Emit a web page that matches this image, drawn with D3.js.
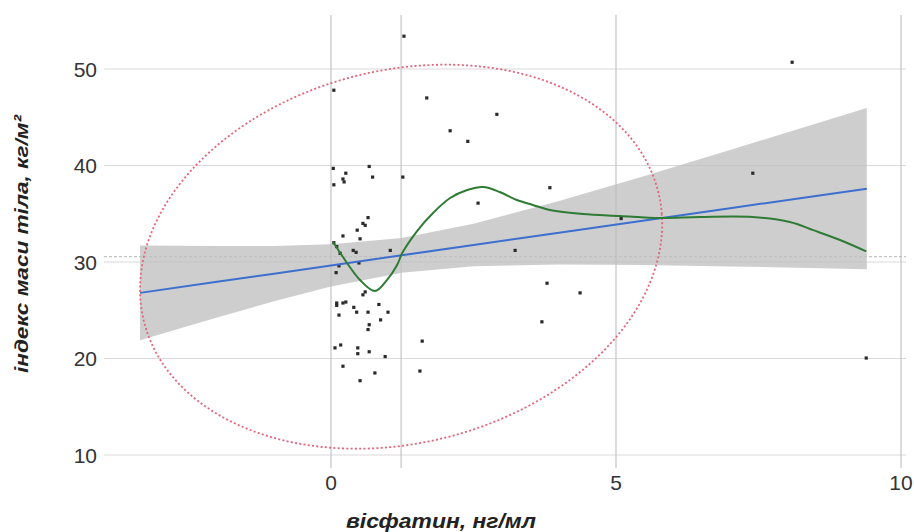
<!DOCTYPE html>
<html>
<head>
<meta charset="utf-8">
<script src="https://cdn.jsdelivr.net/npm/d3@7"></script>
<style>
html,body{margin:0;padding:0;background:#fff;}
svg{display:block;}
text{font-family:"Liberation Sans",Arial,sans-serif;}
</style>
</head>
<body>
<svg id="chart" width="914" height="532"></svg>
<script>
// ---- data ----
const pointsX = [1.28,8.09,0.05,1.68,2.91,2.09,2.40,0.04,0.67,0.26,0.73,0.21,0.23,0.05,1.26,7.40,3.84,2.58,0.65,0.56,0.60,0.46,0.21,0.51,0.05,0.10,0.39,0.44,0.16,1.04,3.23,5.09,0.49,0.14,0.09,3.79,4.37,0.60,0.56,0.10,0.10,0.21,0.26,0.40,0.45,0.65,0.84,1.00,0.14,0.87,0.67,0.65,3.70,1.60,0.17,0.07,0.47,0.47,0.67,0.95,0.21,0.77,0.51,1.56,9.39];
const pointsY = [53.4,50.7,47.8,47.0,45.3,43.6,42.5,39.7,39.9,39.2,38.8,38.6,38.3,38.0,38.8,39.2,37.7,36.1,34.6,34.0,33.8,33.3,32.7,32.4,32.0,31.6,31.2,31.0,30.9,31.2,31.2,34.5,29.9,29.6,28.9,27.8,26.8,26.9,26.6,25.75,25.5,25.75,25.85,25.3,24.8,24.8,25.6,24.8,24.5,24.0,23.5,23.0,23.8,21.8,21.4,21.1,21.1,20.5,20.7,20.2,19.2,18.5,17.7,18.7,20.05];

// linear fit and its confidence band
const bandX    = [-3.35,-2,-1,0,1.24,2.5,4,5.5,7,8.2,9.4];
const fitY     = [26.8,27.95,28.79,29.64,30.69,31.76,33.03,34.30,35.57,36.59,37.6];
const bandLow  = [21.9,24.24,25.92,27.45,28.89,29.56,29.73,29.68,29.54,29.4,29.24];
const bandHigh = [31.7,31.66,31.66,31.83,32.49,33.96,36.33,38.92,41.6,43.78,45.96];

// loess smooth
const smoothX = [0.035,0.21,0.33,0.51,0.77,0.98,1.16,1.25,1.51,1.79,2.09,2.39,2.67,2.96,3.26,3.54,3.84,4.42,5.07,5.77,6.47,7.40,8.05,8.46,8.93,9.39];
const smoothY = [32.07,30.52,29.48,28.13,26.99,28.13,29.69,30.93,33.21,35.08,36.63,37.46,37.77,37.25,36.42,35.91,35.39,34.97,34.77,34.56,34.66,34.66,34.15,33.3,32.28,31.1];

// means and data ellipse: [centreX, centreY, spreadX, spreadY, correlation]
const meanX = 1.23;
const meanY = 30.55;
const ellipseParams = [1.23, 30.55, 4.58, 19.9, 0.17];

const xTicks = [0, 5, 10];
const yTicks = [10, 20, 30, 40, 50];
const xTitle = "вісфатин, нг/мл";
const yTitle = "індекс маси тіла, кг/м²";

// ---- drawing ----
const svg = d3.select("#chart");
const x = d3.scaleLinear().domain([0, 10]).range([331, 901]);
const y = d3.scaleLinear().domain([10, 50]).range([455, 69]);
const gLeft = 104, gRight = 906, gTop = 15, gBottom = 468;

const grid = svg.append("g");
grid.selectAll("line.h").data(yTicks).join("line")
  .attr("x1", gLeft).attr("x2", gRight)
  .attr("y1", d => y(d)).attr("y2", d => y(d))
  .attr("stroke", "#d9d9d9").attr("stroke-width", 1.2);
grid.selectAll("line.v").data(xTicks.concat([meanX])).join("line")
  .attr("x1", d => x(d)).attr("x2", d => x(d))
  .attr("y1", gTop).attr("y2", gBottom)
  .attr("stroke", "#c4c4c4").attr("stroke-width", 1.2);
grid.append("line")
  .attr("x1", gLeft).attr("x2", gRight)
  .attr("y1", y(meanY)).attr("y2", y(meanY))
  .attr("stroke", "#b5b5b5").attr("stroke-width", 1).attr("stroke-dasharray", "3,2");

// confidence band
const bandData = bandX.map((v, i) => ({x: v, lo: bandLow[i], hi: bandHigh[i], f: fitY[i]}));
svg.append("path").datum(bandData)
  .attr("d", d3.area().x(d => x(d.x)).y0(d => y(d.lo)).y1(d => y(d.hi)))
  .attr("fill", "#bdbdbd").attr("fill-opacity", 0.75);

// ellipse
const [ecx, ecy, esx, esy, er] = ellipseParams;
const ellPts = d3.range(0, 360, 3).map(a => {
  const t = a * Math.PI / 180;
  return [ecx + esx * Math.cos(t), ecy + esy * (er * Math.cos(t) + Math.sqrt(1 - er * er) * Math.sin(t))];
});
svg.append("path").datum(ellPts)
  .attr("d", d3.line().x(d => x(d[0])).y(d => y(d[1])).curve(d3.curveCardinalClosed))
  .attr("fill", "none").attr("stroke", "#e4647b").attr("stroke-width", 1.8)
  .attr("stroke-dasharray", "2,2.3");

// points
svg.append("g").selectAll("rect").data(pointsX.map((v, i) => [v, pointsY[i]])).join("rect")
  .attr("x", d => x(d[0]) - 1.6).attr("y", d => y(d[1]) - 1.6)
  .attr("width", 3.2).attr("height", 3.2).attr("fill", "#2a2a2a");

// fit line
svg.append("path").datum(bandData)
  .attr("d", d3.line().x(d => x(d.x)).y(d => y(d.f)))
  .attr("fill", "none").attr("stroke", "#3d6fcf").attr("stroke-width", 2);

// loess
svg.append("path").datum(smoothX.map((v, i) => [v, smoothY[i]]))
  .attr("d", d3.line().x(d => x(d[0])).y(d => y(d[1])).curve(d3.curveCatmullRom))
  .attr("fill", "none").attr("stroke", "#2e7b34").attr("stroke-width", 2);

// axes labels
svg.append("g").selectAll("text").data(yTicks).join("text")
  .attr("x", 97).attr("y", d => y(d)).attr("dy", "0.36em")
  .attr("text-anchor", "end").attr("font-size", 21).attr("fill", "#333")
  .text(d => d);
svg.append("g").selectAll("text").data(xTicks).join("text")
  .attr("x", d => x(d)).attr("y", 490)
  .attr("text-anchor", "middle").attr("font-size", 21).attr("fill", "#333")
  .text(d => d);

svg.append("text").attr("x", 441).attr("y", 528)
  .attr("text-anchor", "middle").attr("font-size", 21)
  .attr("textLength", 190).attr("lengthAdjust", "spacingAndGlyphs")
  .attr("font-weight", "bold").attr("font-style", "italic").attr("fill", "#222")
  .text(xTitle);
svg.append("text")
  .attr("transform", "translate(28,244) rotate(-90)")
  .attr("text-anchor", "middle").attr("font-size", 19)
  .attr("textLength", 258).attr("lengthAdjust", "spacingAndGlyphs")
  .attr("font-weight", "bold").attr("font-style", "italic").attr("fill", "#222")
  .text(yTitle);
</script>
</body>
</html>
